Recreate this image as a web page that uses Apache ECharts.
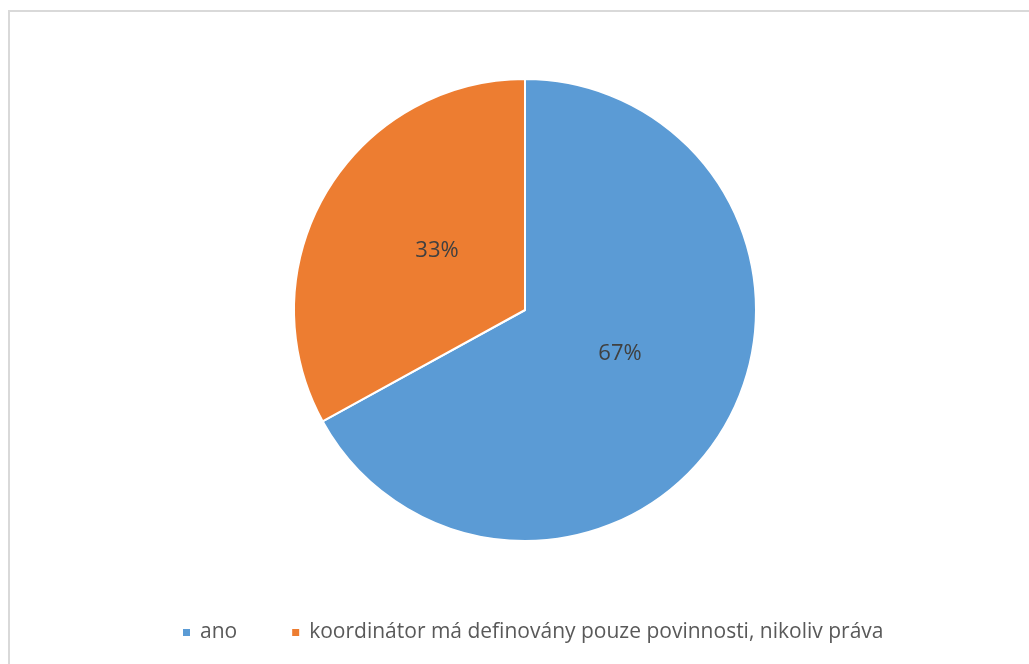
<!DOCTYPE html>
<html><head><meta charset="utf-8">
<script src="https://cdn.jsdelivr.net/npm/echarts@6/dist/echarts.min.js"></script>
<style>
html,body{margin:0;padding:0;background:#fff;}
#frame{position:absolute;left:8px;top:10px;width:1030px;height:670px;border:2px solid #d9d9d9;box-sizing:border-box;}
#c{position:absolute;left:0;top:0;width:1029px;height:664px;}
</style></head>
<body>
<div id="frame"></div>
<div id="c"></div>
<script>
const categories = ['ano', 'koordinátor má definovány pouze povinnosti, nikoliv práva'];
const values = [67, 33];
const colors = ['#5b9bd5', '#ed7d31'];

const labelOffsets = [[-7, -17], [14, 1]];

const chart = echarts.init(document.getElementById('c'), null, {renderer: 'canvas'});
chart.setOption({
  animation: false,
  color: colors,
  legend: {
    bottom: 16,
    left: 176,
    itemWidth: 9,
    itemHeight: 9,
    itemGap: 53,
    icon: 'rect',
    textStyle: {color: '#595959', fontSize: 21, fontFamily: 'Open Sans', padding: [0, 0, 0, 4]},
    data: categories
  },
  series: [{
    type: 'pie',
    center: [525, 310],
    radius: [0, 231],
    startAngle: 90,
    clockwise: true,
    itemStyle: {borderColor: '#fff', borderWidth: 2},
    label: {
      position: 'inside',
      formatter: function(p){ return Math.round(p.percent) + '%'; },
      color: '#404040',
      fontSize: 22,
      fontFamily: 'Open Sans'
    },
    labelLine: {show: false},
    data: categories.map((c, i) => ({name: c, value: values[i], label: {offset: labelOffsets[i]}}))
  }]
});
</script>
</body></html>
